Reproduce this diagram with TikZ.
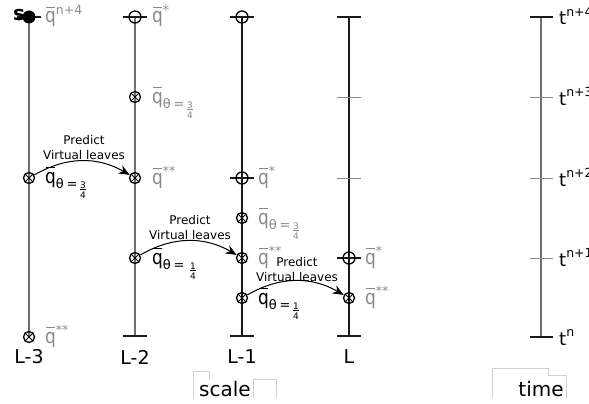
\documentclass[tikz,border=0pt]{standalone}
\usepackage{fontspec}
\usepackage{graphicx}
\setmainfont{DejaVu Sans}
\usetikzlibrary{arrows.meta}
\definecolor{lgray}{HTML}{8A8A8A}
\definecolor{lgline}{HTML}{707070}
\definecolor{dkline}{HTML}{1A1A1A}
\definecolor{faint}{HTML}{D0D0D0}
\newcommand\qbar{\leavevmode\rlap{\kern0.05em\rule[0.74em]{0.45em}{0.06em}}\scalebox{0.85}[1]{q}}
\newcommand\myfr[2]{\raisebox{-15pt}{\vbox{\offinterlineskip\fontsize{9}{9}\selectfont
  \halign{\hfil##\hfil\cr #1\cr\noalign{\kern1pt\hrule height 0.5pt\kern1.5pt}#2\cr}}}}
\newcommand\mysub[1]{\raisebox{-5.5pt}{\fontsize{13}{13}\selectfont θ\hspace{0.2em}=\hspace{0.2em}}#1}
\newcommand\mysupr[1]{\raisebox{8.5pt}{\fontsize{12.5}{12.5}\selectfont #1}}
\newcommand\qs[1]{\qbar\mysupr{#1}}
\newcommand\qt[2]{\qbar\mysub{\myfr{#1}{#2}}}
\tikzset{
  qlab/.style={anchor=base west, inner sep=0pt, font=\fontsize{20}{20}\selectfont, text=lgray},
  qblk/.style={qlab, text=black},
  tlab/.style={anchor=base west, inner sep=0pt, font=\fontsize{18}{18}\selectfont, text=black},
  xnode/.style={circle, draw=black, line width=1.3pt, minimum size=11pt, inner sep=0pt,
    path picture={\draw[line width=1pt] (path picture bounding box.north west) -- (path picture bounding box.south east)
      (path picture bounding box.north east) -- (path picture bounding box.south west);}},
  onode/.style={circle, draw=black, line width=1.3pt, minimum size=12pt, inner sep=0pt},
  fnode/.style={circle, fill=black, minimum size=13pt, inner sep=0pt},
  grayln/.style={draw=lgline, line width=1.3pt},
  blkln/.style={draw=dkline, line width=1.2pt},
  tick/.style={draw=dkline, line width=1.1pt},
  ltick/.style={draw=lgray, line width=0.9pt},
  arr/.style={-{Stealth[length=11pt,width=9pt]}, line width=1pt, black},
  plab/.style={align=center, font=\fontsize{12}{15}\selectfont, inner sep=0pt},
  blab/.style={font=\fontsize{19}{19}\selectfont, inner sep=0pt},
}
\begin{document}
\begin{tikzpicture}[x=1pt,y=-1pt]
\useasboundingbox (0,0) rectangle (589,404);
\clip (0,0) rectangle (589,404);
% ---------- vertical lines ----------
\coordinate (L3t) at (29,17);  \coordinate (L3b) at (29,337);
\coordinate (L2t) at (135,17); \coordinate (L2b) at (135,336);
\coordinate (L1t) at (242,17); \coordinate (L1b) at (242,336);
\coordinate (L0t) at (349,17); \coordinate (L0b) at (349,336);
\coordinate (Tt) at (541,17);  \coordinate (Tb) at (541,337);
\draw[grayln] (L3t) -- (L3b);
\draw[grayln] (L2t) -- (L2b);
\draw[blkln] (L1t) -- (L1b);
\draw[blkln] (L0t) -- (L0b);
\draw[draw=lgline, line width=1.1pt] (Tt) -- (Tb);
% ---------- ticks ----------
\coordinate (s3a) at (17,17); \coordinate (s3b) at (41,17);
\draw[tick] (s3a) -- (s3b);
\foreach \n/\x/\y in {a2/135/17, a1/242/17, a0/349/17, b2/135/336, b1/242/336, b0/349/336, c1/242/178, c0/349/258}{
  \coordinate (\n l) at (\x-12,\y); \coordinate (\n r) at (\x+12,\y);
  \draw[tick] (\n l) -- (\n r);
}
\foreach \n/\y in {d97/97, d178/178}{
  \coordinate (\n l) at (337,\y); \coordinate (\n r) at (361,\y);
  \draw[ltick] (\n l) -- (\n r);
}
\foreach \n/\y/\s in {t4/17/tick, t3/97/ltick, t2/178/ltick, t1/258/ltick, t0/337/tick}{
  \coordinate (\n l) at (530,\y); \coordinate (\n r) at (553,\y);
  \draw[\s] (\n l) -- (\n r);
}
% ---------- markers ----------
\node[blab, font=\fontsize{20}{20}\selectfont\bfseries, anchor=base] (s) at (19,21) {s};
\node[fnode] (n3top) at (29,17) {};
\node[xnode] (n3mid) at (29,178) {};
\node[xnode] (n3bot) at (29,337) {};
\node[onode] (n2top) at (135,17) {};
\node[xnode] (n2a) at (135,97) {};
\node[xnode] (n2b) at (135,178) {};
\node[xnode] (n2c) at (135,258) {};
\node[onode] (n1top) at (242,17) {};
\node[onode] (n1a) at (242,178) {};
\node[xnode] (n1b) at (242,218) {};
\node[xnode] (n1c) at (242,258) {};
\node[xnode] (n1d) at (242,298) {};
\node[onode] (n0a) at (349,258) {};
\node[xnode] (n0b) at (349,298) {};
% ---------- labels ----------
\node[qlab] (q3top) at (45,23) {\qs{n+4}};
\node[qblk] (q3mid) at (45,183) {\qt{3}{4}};
\node[qlab] (q3bot) at (45,343) {\qs{**}};
\node[qlab] (q2top) at (152,23) {\qs{*}};
\node[qlab] (q2a) at (152,103) {\qt{3}{4}};
\node[qlab] (q2b) at (152,184) {\qs{**}};
\node[qblk] (q2c) at (152,264) {\qbar\mysub{\hspace{0.15em}\myfr{1}{4}}};
\node[qlab] (q1a) at (258,184) {\qs{*}};
\node[qlab] (q1b) at (258,224) {\qt{3}{4}};
\node[qlab] (q1c) at (258,264) {\qs{**}};
\node[qblk] (q1d) at (258,304) {\qt{1}{4}};
\node[qlab] (q0a) at (365,264) {\qs{*}};
\node[qlab] (q0b) at (365,304) {\qs{**}};
% ---------- time labels ----------
\node[tlab] (tt4) at (559,25) {t\mysupr{n+4}};
\node[tlab] (tt3) at (559,105) {t\mysupr{n+3}};
\node[tlab] (tt2) at (559,186) {t\mysupr{n+2}};
\node[tlab] (tt1) at (559,266) {t\mysupr{n+1}};
\node[tlab] (tt0) at (559,345) {t\mysupr{n}};
% ---------- arrows ----------
\draw[arr] (n3mid) to[bend left=30] (n2b);
\draw[arr] (n2c) to[bend left=30] (n1c);
\draw[arr] (n1d) to[bend left=30] (n0b);
\node[plab] (p1) at (84,148) {Predict\\Virtual leaves};
\node[plab] (p2) at (190,228) {Predict\\Virtual leaves};
\node[plab] (p3) at (297,270) {Predict\\Virtual leaves};
% ---------- bottom labels ----------
\node[blab] (l3) at (29,357) {L-3};
\node[blab] (l2) at (135,357) {L-2};
\node[blab] (l1) at (242,357) {L-1};
\node[blab] (l0) at (349,357) {L};
\node[blab, font=\fontsize{20}{20}\selectfont, anchor=base] (scale) at (225,396) {scale};
\node[blab, font=\fontsize{20}{20}\selectfont, anchor=base] (time) at (541,396) {time};
% faint boxes
\draw[faint, line width=0.7pt] (193,398) -- (193,371) -- (209,371) -- (209,380);
\draw[faint, line width=0.7pt] (253,398) -- (253,379) -- (276,379) -- (276,398);
\draw[faint, line width=0.7pt] (492,398) -- (492,368) -- (548,368) -- (548,375) -- (566,375) -- (566,398);
\end{tikzpicture}
\end{document}
